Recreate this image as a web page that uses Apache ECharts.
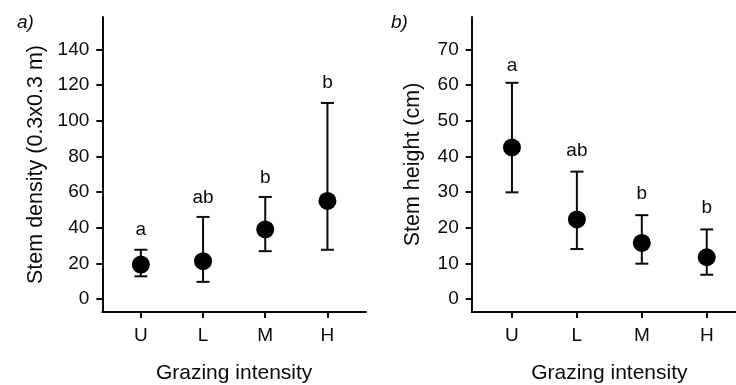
<!DOCTYPE html>
<html>
<head>
<meta charset="utf-8">
<script src="https://cdn.jsdelivr.net/npm/echarts@6/dist/echarts.min.js"></script>
<style>html,body{margin:0;padding:0;background:#fff;}#c{width:736px;height:385px;}</style>
</head>
<body>
<div id="c"></div>
<script>
// Categories
const categories = ['U', 'L', 'M', 'H'];
// Panel a: stem density
const densityMean  = [19.3, 21.2, 39.0, 55.0];
const densityLow   = [12.7, 9.6, 26.8, 27.6];
const densityHigh  = [27.6, 46.0, 57.2, 109.9];
const densityLetters = ['a', 'ab', 'b', 'b'];
const densityLetterY = [39, 57, 67.7, 121];
const densityTicks = [0, 20, 40, 60, 80, 100, 120, 140];
// Panel b: stem height
const heightMean  = [42.5, 22.3, 15.7, 11.7];
const heightLow   = [29.9, 14.0, 9.9, 6.8];
const heightHigh  = [60.6, 35.7, 23.5, 19.5];
const heightLetters = ['a', 'ab', 'b', 'b'];
const heightLetterY = [65.5, 41.6, 29.6, 25.5];
const heightTicks = [0, 10, 20, 30, 40, 50, 60, 70];

const FONT = '"Liberation Sans", Arial, Helvetica, sans-serif';
const chart = echarts.init(document.getElementById('c'));

function xAxisDef(gridIndex) {
  return {
    type: 'value', gridIndex: gridIndex, min: -0.62, max: 3.62,
    name: 'Grazing intensity', nameLocation: 'middle', nameGap: 51,
    nameTextStyle: { fontFamily: FONT, fontSize: 21, color: '#0a0a0a' },
    axisLine: { show: true, onZero: false, lineStyle: { color: '#0a0a0a', width: 2 } },
    axisTick: { show: true, length: 6, lineStyle: { color: '#0a0a0a', width: 2 }, customValues: [0, 1, 2, 3] },
    axisLabel: { show: true, margin: 14, fontFamily: FONT, fontSize: 19, color: '#0a0a0a',
      customValues: [0, 1, 2, 3], formatter: v => categories[Math.round(v)] },
    splitLine: { show: false }
  };
}
function yAxisDef(gridIndex, min, max, ticks, name, gap) {
  return {
    type: 'value', gridIndex: gridIndex, min: min, max: max,
    name: name, nameLocation: 'middle', nameGap: gap,
    nameTextStyle: { fontFamily: FONT, fontSize: 21.5, color: '#0a0a0a' },
    axisLine: { show: true, onZero: false, lineStyle: { color: '#0a0a0a', width: 2 } },
    axisTick: { show: true, length: 6, lineStyle: { color: '#0a0a0a', width: 2 }, customValues: ticks },
    axisLabel: { show: true, margin: 13, fontFamily: FONT, fontSize: 19, color: '#0a0a0a', customValues: ticks },
    splitLine: { show: false }
  };
}

function errData(low, high) { return low.map((l, i) => [i, l, high[i]]); }
function pointData(mean) { return mean.map((m, i) => [i, m]); }
function letterData(ys, letters) { return ys.map((y, i) => [i, y, letters[i]]); }

function errSeries(ai, low, high) {
  return {
    type: 'custom', xAxisIndex: ai, yAxisIndex: ai, data: errData(low, high), z: 2,
    renderItem: function (params, api) {
      const x = api.value(0);
      const pLo = api.coord([x, api.value(1)]);
      const pHi = api.coord([x, api.value(2)]);
      const hw = 6.5;
      const st = { stroke: '#0a0a0a', lineWidth: 2 };
      return { type: 'group', children: [
        { type: 'line', shape: { x1: pLo[0], y1: pLo[1], x2: pHi[0], y2: pHi[1] }, style: st },
        { type: 'line', shape: { x1: pLo[0] - hw, y1: pLo[1], x2: pLo[0] + hw, y2: pLo[1] }, style: st },
        { type: 'line', shape: { x1: pHi[0] - hw, y1: pHi[1], x2: pHi[0] + hw, y2: pHi[1] }, style: st }
      ]};
    }
  };
}
function pointSeries(ai, mean) {
  return { type: 'scatter', xAxisIndex: ai, yAxisIndex: ai, data: pointData(mean), symbol: 'circle',
    symbolSize: 18, itemStyle: { color: '#000', opacity: 1 }, z: 3, silent: true };
}
function letterSeries(ai, ys, letters) {
  return {
    type: 'custom', xAxisIndex: ai, yAxisIndex: ai, data: letterData(ys, letters), z: 4,
    renderItem: function (params, api) {
      const p = api.coord([api.value(0), api.value(1)]);
      return { type: 'text', x: p[0], y: p[1], style: { text: letters[params.dataIndex],
        font: '19px ' + FONT, fill: '#0a0a0a', align: 'center', verticalAlign: 'middle' } };
    }
  };
}

chart.setOption({
  animation: false,
  backgroundColor: '#fff',
  grid: [
    { left: 102.3, right: 370, top: 17, bottom: 73, containLabel: false, outerBoundsMode: 'none' },
    { left: 471.7, right: -11, top: 17, bottom: 73, containLabel: false, outerBoundsMode: 'none' }
  ],
  xAxis: [xAxisDef(0), xAxisDef(1)],
  yAxis: [
    yAxisDef(0, -7.3, 158.1, densityTicks, 'Stem density (0.3x0.3 m)', 55),
    yAxisDef(1, -3.65, 79.05, heightTicks, 'Stem height (cm)', 48)
  ],
  graphic: [
    { type: 'text', left: 17, top: 13, style: { text: 'a)', font: 'italic 19px ' + FONT, fill: '#0a0a0a' } },
    { type: 'text', left: 391, top: 13, style: { text: 'b)', font: 'italic 19px ' + FONT, fill: '#0a0a0a' } }
  ],
  series: [
    errSeries(0, densityLow, densityHigh),
    pointSeries(0, densityMean),
    letterSeries(0, densityLetterY, densityLetters),
    errSeries(1, heightLow, heightHigh),
    pointSeries(1, heightMean),
    letterSeries(1, heightLetterY, heightLetters)
  ]
});
</script>
</body>
</html>
